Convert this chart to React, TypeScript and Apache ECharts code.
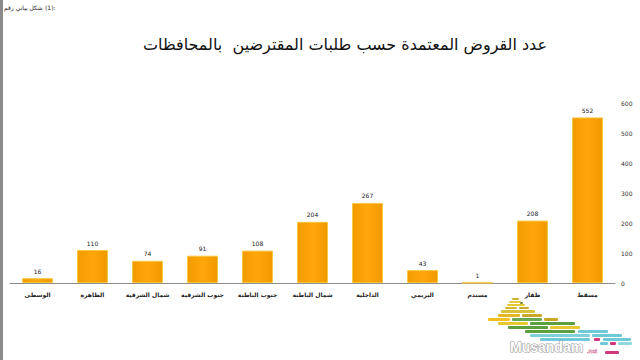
import React, { useEffect, useRef } from "react";
import * as echarts from "echarts";

const categories = [
  "مسقط",
  "ظفار",
  "مسندم",
  "البريمي",
  "الداخلية",
  "شمال الباطنة",
  "جنوب الباطنة",
  "جنوب الشرقية",
  "شمال الشرقية",
  "الظاهرة",
  "الوسطى",
];
const loans = [552, 208, 1, 43, 267, 204, 108, 91, 74, 110, 16];
const yTicks = { min: 0, max: 600, interval: 100 };

const title = "عدد القروض المعتمدة حسب طلبات المقترضين  بالمحافظات";
const captionWords = "شكل بياني رقم";
const captionNumber = "(1):";

const stripes: [number, number, number, number, string][] = [
  [512, 298, 7, 2, "#c8b030"],
  [509, 301, 12, 2, "#e8cc40"],
  [520, 302, 3, 2, "#7a8a3a"],
  [507, 304, 18, 2, "#e8c830"],
  [505, 307, 12, 2, "#d9b52a"],
  [519, 307, 10, 2, "#c9a828"],
  [501, 310, 34, 3, "#d8c238"],
  [498, 314, 22, 3, "#e6b820"],
  [522, 314, 20, 3, "#c9a828"],
  [488, 318, 22, 3, "#f0c020"],
  [512, 318, 30, 3, "#6aa84f"],
  [544, 318, 14, 3, "#c9a828"],
  [498, 322, 30, 3, "#e8c830"],
  [530, 322, 45, 3, "#5d9e3e"],
  [508, 326, 40, 3, "#5d9e3e"],
  [550, 326, 30, 3, "#e8c830"],
  [525, 330, 50, 3, "#5d9e3e"],
  [578, 330, 30, 3, "#6fc9d6"],
  [530, 334, 60, 3, "#7fd0da"],
  [592, 334, 30, 3, "#6fc9d6"],
  [540, 338, 50, 3, "#6fc9d6"],
  [594, 338, 6, 3, "#d4387c"],
  [603, 338, 28, 3, "#6fc9d6"],
  [600, 342, 8, 3, "#6fc9d6"],
  [610, 342, 6, 3, "#d4387c"],
  [618, 342, 14, 3, "#8fd8e0"],
  [605, 351, 14, 3, "#d4387c"],
];

export default function App() {
  const ref = useRef<HTMLDivElement>(null);
  useEffect(() => {
    if (!ref.current) return;
    const chart = echarts.init(ref.current, null, { renderer: "svg" });
    const logo: any[] = stripes.map(([x, y, w, h, c]) => ({
      type: "rect",
      shape: { x, y, width: w, height: h, r: 1 },
      style: { fill: c },
      silent: true,
    }));
    logo.push({
      type: "text",
      x: 510,
      y: 340,
      style: {
        text: "Musandam",
        fontSize: 14,
        fontWeight: "bold",
        fontFamily: "Liberation Sans, Arial",
        fill: "#ffffff",
        stroke: "#9a9a9a",
        lineWidth: 1.2,
        verticalAlign: "top",
        align: "left",
      },
    });
    logo.push({
      type: "text",
      x: 587,
      y: 348,
      style: {
        text: ".net",
        fontSize: 6,
        fontFamily: "Liberation Sans, Arial",
        fill: "#ffffff",
        stroke: "#c03070",
        lineWidth: 0.6,
        verticalAlign: "top",
        align: "left",
      },
    });
    chart.setOption({
      animation: false,
      backgroundColor: "#ffffff",
      grid: { left: 10, right: 25, top: 103, bottom: 77, containLabel: false },
      xAxis: {
        type: "category",
        data: categories,
        inverse: true,
        axisLine: { lineStyle: { color: "#8c8c8c", width: 1 } },
        axisTick: { show: false },
        axisLabel: {
          fontSize: 6,
          fontWeight: "bold",
          color: "#222",
          fontFamily: "DejaVu Sans",
          margin: 8,
          interval: 0,
        },
      },
      yAxis: {
        type: "value",
        position: "right",
        min: yTicks.min,
        max: yTicks.max,
        interval: yTicks.interval,
        splitLine: { show: false },
        axisLine: { show: false },
        axisTick: { show: false },
        axisLabel: { fontSize: 6, color: "#333", margin: 6, fontFamily: "DejaVu Sans" },
      },
      title: {
        text: title,
        left: 340,
        textAlign: "center",
        top: 31,
        textStyle: {
          fontSize: 16,
          fontWeight: "normal",
          color: "#111",
          fontFamily: "DejaVu Sans",
        },
      },
      graphic: [
        { type: "rect", shape: { x: 0, y: 0, width: 3, height: 360 }, style: { fill: "#8a8a8a" } },
        {
          type: "text",
          x: 4,
          y: 4,
          style: {
            text: captionWords,
            fontSize: 6,
            fill: "#222",
            fontFamily: "DejaVu Sans",
            verticalAlign: "top",
            align: "left",
          },
        },
        {
          type: "text",
          x: 45,
          y: 4,
          style: {
            text: captionNumber,
            fontSize: 6,
            fill: "#222",
            fontFamily: "DejaVu Sans",
            verticalAlign: "top",
            align: "left",
          },
        },
        ...logo,
      ],
      series: [
        {
          type: "bar",
          data: loans,
          barWidth: 31,
          itemStyle: {
            color: new echarts.graphic.LinearGradient(0, 0, 1, 0, [
              { offset: 0, color: "#f29b00" },
              { offset: 0.5, color: "#ffa70a" },
              { offset: 1, color: "#f09800" },
            ]),
            borderColor: "#f7c842",
            borderWidth: 1,
          },
          label: {
            show: true,
            position: "top",
            fontSize: 6,
            color: "#222",
            distance: 4,
            fontFamily: "DejaVu Sans",
          },
        },
      ],
    });
    return () => chart.dispose();
  }, []);
  return (
    <div
      ref={ref}
      style={{ width: 640, height: 360, position: "absolute", left: 0, top: 0 }}
    />
  );
}
